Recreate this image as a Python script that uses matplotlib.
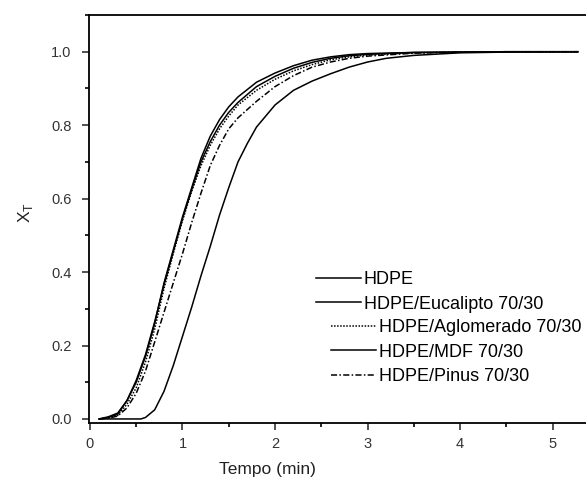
import matplotlib
matplotlib.use("Agg")
import matplotlib.pyplot as plt
from matplotlib.ticker import MultipleLocator

plt.rcParams['font.family'] = ['Liberation Sans', 'DejaVu Sans']

# time (min) and relative crystallinity
t_hdpe = [0.1, 0.55, 0.6, 0.7, 0.8, 0.9, 1.0, 1.1, 1.2, 1.3, 1.4, 1.5, 1.6, 1.7, 1.8,
          2.0, 2.2, 2.4, 2.6, 2.8, 3.0, 3.2, 3.5, 4.0, 4.5, 5.27]
x_hdpe = [0.0, 0.0, 0.004, 0.025, 0.075, 0.145, 0.225, 0.305, 0.39, 0.47, 0.555, 0.63, 0.70, 0.75, 0.795,
          0.855, 0.895, 0.92, 0.94, 0.958, 0.972, 0.982, 0.99, 0.997, 0.999, 1.0]

t_comp = [0.1, 0.2, 0.3, 0.4, 0.5, 0.6, 0.7, 0.8, 0.9, 1.0, 1.1, 1.2, 1.3, 1.4, 1.5, 1.6,
          1.8, 2.0, 2.2, 2.4, 2.6, 2.8, 3.0, 3.5, 4.0, 4.5, 5.27]
x_eucalipto = [0.0, 0.004, 0.013, 0.05, 0.10, 0.17, 0.26, 0.37, 0.46, 0.55, 0.63, 0.71, 0.77, 0.815, 0.85, 0.877,
               0.917, 0.942, 0.962, 0.977, 0.986, 0.992, 0.995, 0.998, 0.999, 1.0, 1.0]
x_aglomerado = [0.0, 0.003, 0.01, 0.04, 0.085, 0.155, 0.245, 0.355, 0.45, 0.54, 0.62, 0.69, 0.745, 0.79, 0.825, 0.855,
                0.895, 0.925, 0.948, 0.965, 0.978, 0.986, 0.991, 0.997, 0.999, 1.0, 1.0]
x_mdf = [0.0, 0.006, 0.016, 0.05, 0.105, 0.175, 0.265, 0.365, 0.455, 0.545, 0.625, 0.70, 0.755, 0.80, 0.835, 0.862,
         0.905, 0.933, 0.955, 0.971, 0.982, 0.989, 0.993, 0.998, 0.999, 1.0, 1.0]
x_pinus = [0.0, 0.002, 0.008, 0.03, 0.07, 0.13, 0.21, 0.29, 0.37, 0.45, 0.535, 0.615, 0.69, 0.745, 0.79, 0.82,
           0.865, 0.905, 0.935, 0.958, 0.972, 0.982, 0.988, 0.996, 0.999, 1.0, 1.0]

labels = ["HDPE", "HDPE/Eucalipto 70/30", "HDPE/Aglomerado 70/30", "HDPE/MDF 70/30", "HDPE/Pinus 70/30"]

fig = plt.figure(figsize=(5.86, 4.84), dpi=100)
ax = fig.add_axes([89 / 586, 1 - 423 / 484, 510 / 586, 408 / 484])

lw = 1.1
l1, = ax.plot(t_hdpe, x_hdpe, color='black', lw=lw, label=labels[0])
l2, = ax.plot(t_comp, x_eucalipto, color='black', lw=lw, label=labels[1])
l3, = ax.plot(t_comp, x_aglomerado, color='black', lw=lw, ls=(0, (1, 1)), label=labels[2])
l4, = ax.plot(t_comp, x_mdf, color='black', lw=lw, label=labels[3])
l5, = ax.plot(t_comp, x_pinus, color='black', lw=lw, ls=(0, (4, 1.5, 1, 1.5)), label=labels[4])

ax.set_xlim(-0.01, 5.5)
ax.set_ylim(-0.011, 1.10)
ax.xaxis.set_minor_locator(MultipleLocator(0.5))
ax.yaxis.set_minor_locator(MultipleLocator(0.1))
ax.set_xticks([0, 1, 2, 3, 4, 5])
ax.set_yticks([0.0, 0.2, 0.4, 0.6, 0.8, 1.0])
ax.set_yticklabels(["0.0", "0.2", "0.4", "0.6", "0.8", "1.0"])
ax.tick_params(which='major', direction='out', length=5, width=1.2, labelsize=10.5, colors='#333333')
ax.tick_params(axis='y', which='major', pad=7.5)
ax.tick_params(axis='x', which='major', pad=5)
ax.tick_params(which='minor', direction='out', length=3, width=1.2)
for sp in ax.spines.values():
    sp.set_linewidth(1.3)

ax.set_xlabel("Tempo (min)", fontsize=12.5, color='#222222')
ax.xaxis.set_label_coords((267 - 89) / 510, -(470 - 423) / 408 + 0.02)
ax.set_ylabel("X$_\\mathregular{T}$", fontsize=12.5, color='#222222')
ax.yaxis.set_label_coords(-(89 - 35) / 510, (423 - 213) / 408)

leg_kw = dict(bbox_transform=fig.transFigure, frameon=False, fontsize=13, handletextpad=0.15,
              labelspacing=0.42, borderpad=0, borderaxespad=0)
leg1 = ax.legend([l1, l2], labels[:2], loc='upper left', bbox_to_anchor=(316 / 586, 1 - 271 / 484),
                 handlelength=2.5, **leg_kw)
ax.add_artist(leg1)
ax.legend([l3, l4, l5], labels[2:], loc='upper left', bbox_to_anchor=(331 / 586, 1 - 319 / 484),
          handlelength=2.5, **leg_kw)

fig.savefig("out.png", dpi=100)
